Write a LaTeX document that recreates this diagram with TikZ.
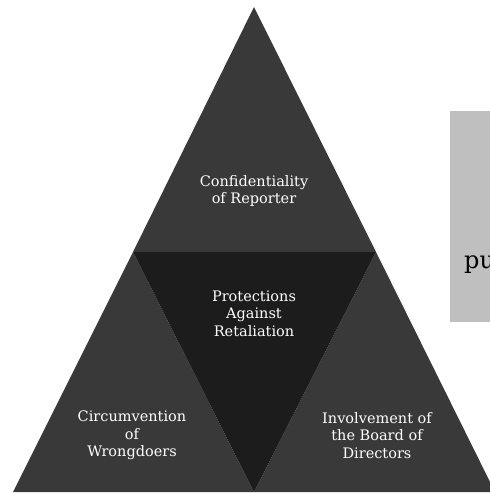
\documentclass[tikz,border=0pt]{standalone}
\usepackage{fontspec}
\setmainfont{DejaVu Serif}
\definecolor{outer}{HTML}{393939}
\definecolor{inner}{HTML}{1C1C1C}
\definecolor{panel}{HTML}{BFBFBF}
\tikzset{label/.style={text=white,align=center,font=\fontsize{14.5}{17.5}\selectfont}}
\begin{document}
\begin{tikzpicture}[x=1pt,y=-1pt]
                \useasboundingbox (0,0) rectangle (490,493);
                \clip (0,0) rectangle (490,493);
                \coordinate (top) at (254,7);
                \coordinate (ml) at (133,252);
                \coordinate (mr) at (376,252);
                \coordinate (bl) at (13,492);
                \coordinate (bm) at (254,492);
                \coordinate (br) at (495,492);

                \fill[outer] (top) -- (ml) -- (mr) -- cycle;
                \fill[outer] (ml) -- (bl) -- (bm) -- cycle;
                \fill[outer] (mr) -- (bm) -- (br) -- cycle;
                \fill[inner] (ml) -- (mr) -- (bm) -- cycle;

                \fill[panel] (450,111) rectangle (500,322);
                \node (pu) [anchor=base west,inner sep=0pt,font=\fontsize{24}{28}\selectfont] at (464,268) {pu};

                \node (conf) [label] at (254,191) {Confidentiality\\of Reporter};
                \node (prot) [label] at (254,313.5) {Protections\\Against\\Retaliation};
                \node (circ) [label] at (132,435.5) {Circumvention\\of\\Wrongdoers};
                \node (inv) [label] at (377,435.5) {Involvement of\\the Board of\\Directors};
            \end{tikzpicture}
\end{document}
